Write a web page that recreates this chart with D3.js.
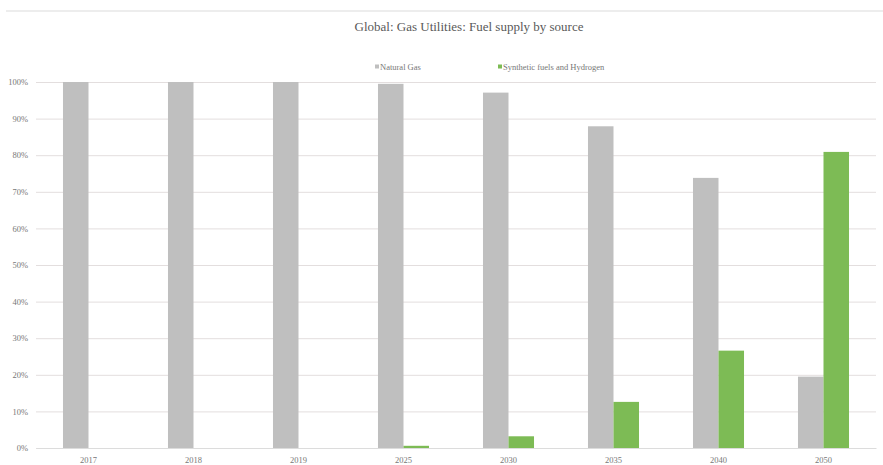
<!DOCTYPE html>
<html>
<head>
<meta charset="utf-8">
<script src="https://cdn.jsdelivr.net/npm/d3@7"></script>
<style>
  body { margin: 0; background: #fff; }
  svg { display: block; }
</style>
</head>
<body>
<div id="chart"></div>
<script>
let years = ["2017", "2018", "2019", "2025", "2030", "2035", "2040", "2050"];
let naturalGas = [100, 100, 100, 99.5, 97.1, 87.9, 73.8, 19.5];
let synthetic = [0, 0, 0, 0.6, 3.2, 12.6, 26.6, 80.9];
let seriesNames = ["Natural Gas", "Synthetic fuels and Hydrogen"];
let seriesColors = ["#bfbfbf", "#7dbb55"];
let yTicks = [0, 10, 20, 30, 40, 50, 60, 70, 80, 90, 100];

let width = 883, height = 465;
let margin = {top: 82, right: 7, bottom: 17, left: 36};
let serif = "Liberation Serif, Times New Roman, serif";

var svg = d3.select("#chart").append("svg")
    .attr("width", width)
    .attr("height", height)
    .attr("font-family", serif);

// thin frame line at the top
svg.append("line")
    .attr("x1", 6).attr("x2", width)
    .attr("y1", 11).attr("y2", 11)
    .attr("stroke", "#dcdcdc")
    .attr("stroke-width", 1.2);

svg.append("text")
    .attr("x", 469).attr("y", 31)
    .attr("text-anchor", "middle")
    .attr("font-family", serif)
    .attr("font-size", 13)
    .attr("fill", "#595959")
    .text("Global: Gas Utilities: Fuel supply by source");

var x = d3.scaleBand()
    .domain(years)
    .range([margin.left, width - margin.right])
    .paddingInner(0.514)
    .paddingOuter(0.257);

var inner = d3.scaleBand()
    .domain([0, 1])
    .range([0, x.bandwidth()]);

var y = d3.scaleLinear()
    .domain([0, 100])
    .range([height - margin.bottom, margin.top]);

// grid
svg.append("g")
    .attr("transform", `translate(${margin.left},0)`)
    .call(d3.axisLeft(y)
        .tickValues(yTicks)
        .tickSize(-(width - margin.left - margin.right))
        .tickFormat(d => d + "%")
        .tickPadding(8))
    .call(g => g.select(".domain").remove())
    .call(g => g.selectAll(".tick line").attr("stroke", "#e3dede").attr("stroke-width", 1))
    .call(g => g.selectAll(".tick text")
        .attr("font-size", 8.5)
        .attr("fill", "#777")
        .attr("font-family", serif));

let series = [naturalGas, synthetic];
series.forEach((vals, si) => {
    svg.append("g")
        .selectAll("rect")
        .data(vals)
        .join("rect")
        .attr("x", (d, i) => x(years[i]) + inner(si))
        .attr("width", inner.bandwidth())
        .attr("y", d => y(d))
        .attr("height", d => y(0) - y(d))
        .attr("fill", seriesColors[si]);
});

// x axis
svg.append("g")
    .attr("transform", `translate(0,${height - margin.bottom})`)
    .call(d3.axisBottom(x).tickSize(0).tickPadding(9))
    .call(g => g.select(".domain").attr("stroke", "#dcdcdc"))
    .call(g => g.selectAll(".tick text")
        .attr("font-size", 8.5)
        .attr("fill", "#777")
        .attr("font-family", serif));

// legend
let legendX = [375, 498];
let legend = svg.append("g");
seriesNames.forEach((name, i) => {
    legend.append("rect")
        .attr("x", legendX[i]).attr("y", 64.5)
        .attr("width", 4).attr("height", 4)
        .attr("fill", seriesColors[i]);
    legend.append("text")
        .attr("x", legendX[i] + 5).attr("y", 70)
        .attr("font-size", 8.5)
        .attr("fill", "#777")
        .attr("font-family", serif)
        .text(name);
});
</script>
</body>
</html>
